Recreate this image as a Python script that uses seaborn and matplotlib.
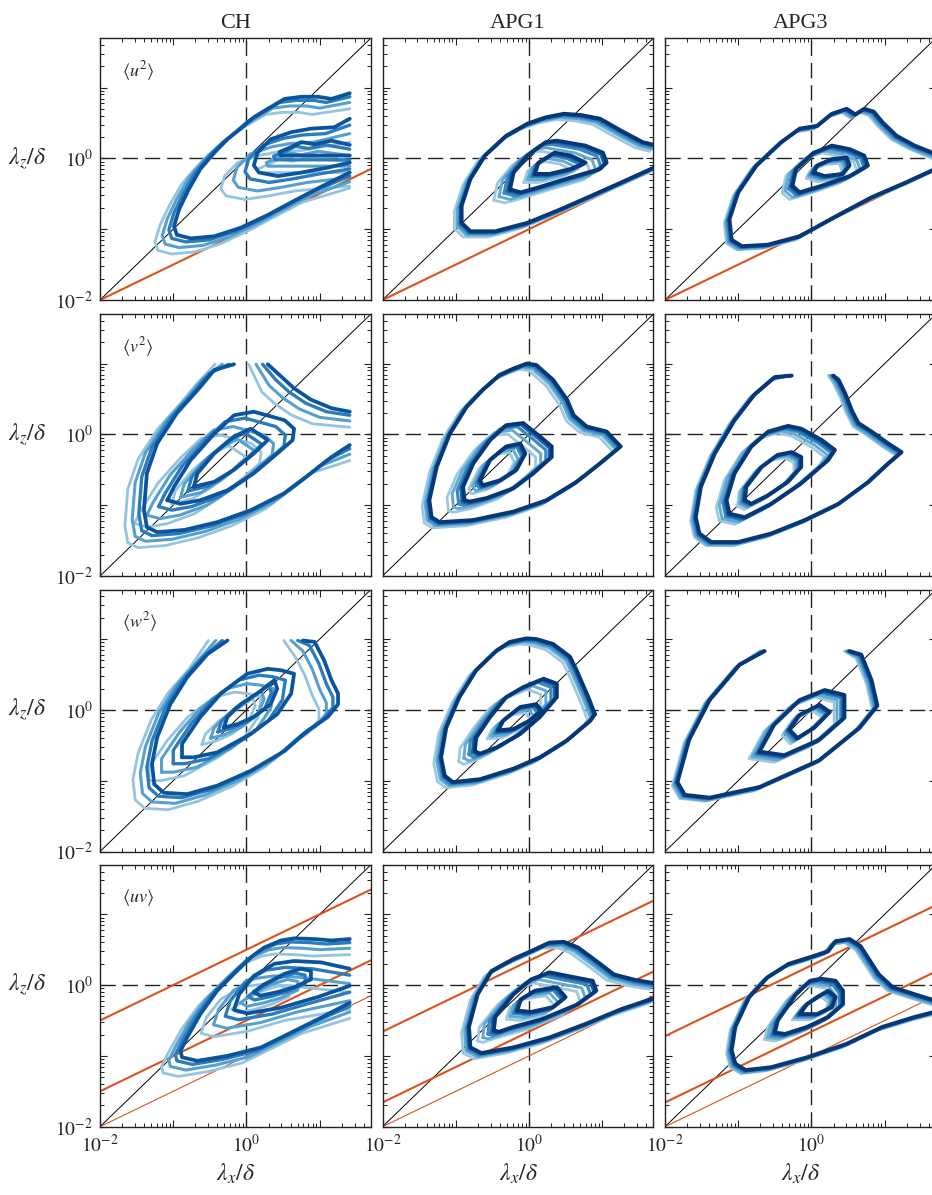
import numpy as np
import matplotlib
matplotlib.use("Agg")
import matplotlib.pyplot as plt
import seaborn as sns
from matplotlib.ticker import LogLocator, NullFormatter, FixedLocator

# ---------------------------------------------------------------------------
# Premultiplied 2-D spectra: contour lines in (log10 lambda_x/delta, log10 lambda_z/delta)
# Each curve is the darkest (highest-Re) case; lighter cases are stored as
# per-level displacements of that curve.
# ---------------------------------------------------------------------------
CASES = ["CH", "APG1", "APG3"]
COMPONENTS = [r"$\langle u^2\rangle$", r"$\langle v^2\rangle$",
              r"$\langle w^2\rangle$", r"$\langle uv\rangle$"]

# ----- CH --------------------------------------------------------------------
CH_U2_OUTER = [(1.41, 0.92), (1.16, 0.84), (0.98, 0.87), (0.75, 0.87), (0.52, 0.84),
               (0.29, 0.70), (0.10, 0.58), (-0.08, 0.42), (-0.26, 0.27), (-0.44, 0.08),
               (-0.63, -0.15), (-0.79, -0.44), (-0.92, -0.72), (-0.99, -0.96),
               (-0.95, -1.08), (-0.76, -1.13), (-0.44, -1.10), (-0.08, -0.98),
               (0.29, -0.80), (0.65, -0.60), (1.02, -0.40), (1.41, -0.20)]
CH_U2_MID = [(1.41, 0.56), (1.20, 0.44), (0.88, 0.42), (0.61, 0.37), (0.33, 0.27),
             (0.15, 0.08), (0.10, -0.10), (0.17, -0.20), (0.43, -0.25), (0.75, -0.20),
             (1.11, -0.13), (1.41, -0.06)]
CH_U2_IN = [(1.41, 0.19), (1.16, 0.25), (0.93, 0.20), (0.75, 0.23), (0.61, 0.16),
            (0.45, 0.09), (0.47, 0.04), (0.75, 0.04), (1.41, 0.04)]

CH_V2_OUTER_A = [(-0.17, 0.99), (-0.44, 0.91), (-0.63, 0.67), (-0.95, 0.30), (-1.22, -0.13),
                 (-1.36, -0.55), (-1.40, -1.07), (-1.36, -1.31), (-1.22, -1.38),
                 (-0.85, -1.35), (-0.40, -1.24), (0.06, -1.07), (0.52, -0.83),
                 (0.88, -0.55), (1.16, -0.32), (1.41, -0.15)]
CH_V2_OUTER_B = [(0.29, 0.99), (0.47, 0.82), (0.65, 0.65), (0.88, 0.49), (1.16, 0.37),
                 (1.41, 0.32)]
CH_V2_MID = [(-1.08, -0.93), (-0.99, -0.74), (-0.76, -0.36), (-0.44, 0.01), (-0.17, 0.27),
             (0.10, 0.32), (0.52, 0.20), (0.65, 0.08), (0.63, -0.08), (0.42, -0.27),
             (0.10, -0.55), (-0.26, -0.79), (-0.63, -0.93), (-0.90, -0.98)]
CH_V2_IN = [(-0.72, -0.74), (-0.67, -0.55), (-0.44, -0.27), (-0.17, -0.03), (0.06, 0.08),
            (0.29, -0.08), (0.10, -0.27), (-0.17, -0.50), (-0.44, -0.67)]

CH_W2_OUTER = [(-0.26, 0.98), (-0.53, 0.79), (-0.81, 0.46), (-1.04, 0.08), (-1.22, -0.39),
               (-1.29, -0.76), (-1.26, -1.05), (-1.13, -1.17), (-0.81, -1.19),
               (-0.40, -1.07), (0.06, -0.86), (0.52, -0.58), (0.84, -0.29), (1.11, -0.10),
               (1.25, 0.08), (1.25, 0.23), (1.16, 0.42), (1.06, 0.70), (0.93, 0.96),
               (0.77, 0.98)]
CH_W2_MID = [(-0.88, -0.67), (-0.88, -0.48), (-0.63, -0.10), (-0.35, 0.23), (0.01, 0.51),
             (0.29, 0.58), (0.47, 0.56), (0.65, 0.51), (0.61, 0.23), (0.42, -0.06),
             (0.06, -0.34), (-0.40, -0.60), (-0.72, -0.67)]
CH_W2_IN = [(-0.31, -0.25), (-0.26, -0.10), (-0.08, 0.08), (0.20, 0.27), (0.38, 0.42),
            (0.42, 0.30), (0.33, 0.08), (0.10, -0.10), (-0.12, -0.20)]

CH_UV_OUTER = [(1.41, 0.65), (1.16, 0.63), (0.93, 0.65), (0.65, 0.66), (0.47, 0.63),
               (0.24, 0.53), (0.06, 0.39), (-0.17, 0.16), (-0.40, -0.08), (-0.63, -0.41),
               (-0.81, -0.74), (-0.90, -0.93), (-0.88, -1.02), (-0.67, -1.07),
               (-0.26, -1.00), (0.20, -0.88), (0.65, -0.65), (1.02, -0.46), (1.41, -0.25)]
CH_UV_MID = [(1.41, 0.23), (1.02, 0.32), (0.65, 0.34), (0.38, 0.30), (0.10, 0.13),
             (-0.10, -0.13), (-0.17, -0.35), (0.01, -0.40), (0.47, -0.32), (0.97, -0.17),
             (1.41, -0.01)]
CH_UV_IN = [(0.10, -0.10), (0.24, 0.01), (0.52, 0.16), (0.74, 0.23), (0.88, 0.20),
            (0.88, 0.08), (0.65, -0.03), (0.42, -0.10), (0.19, -0.15)]

# ----- APG1 ------------------------------------------------------------------
APG1_U2_OUTER = [(1.75, 0.18), (1.55, 0.23), (1.26, 0.39), (0.97, 0.56), (0.72, 0.61),
                 (0.48, 0.63), (0.23, 0.58), (-0.02, 0.49), (-0.31, 0.32), (-0.60, 0.04),
                 (-0.80, -0.29), (-0.92, -0.67), (-0.92, -0.91), (-0.80, -1.03),
                 (-0.46, -1.03), (-0.02, -0.91), (0.43, -0.72), (0.87, -0.52),
                 (1.26, -0.34), (1.75, -0.11)]
APG1_U2_MID = [(-0.26, -0.44), (-0.21, -0.20), (-0.02, 0.04), (0.23, 0.23), (0.38, 0.25),
               (0.77, 0.18), (1.01, 0.08), (1.06, -0.06), (0.97, -0.15), (0.57, -0.27),
               (0.13, -0.41), (-0.11, -0.48)]
APG1_U2_IN = [(0.08, -0.22), (0.13, -0.06), (0.35, 0.08), (0.57, 0.04), (0.77, -0.06),
              (0.57, -0.15), (0.28, -0.22)]

APG1_V2_OUTER = [(1.25, -0.17), (1.06, 0.04), (0.79, 0.11), (0.61, 0.27), (0.52, 0.49),
                 (0.33, 0.77), (0.10, 0.98), (-0.03, 1.00), (-0.21, 0.93), (-0.40, 0.84),
                 (-0.63, 0.63), (-0.85, 0.39), (-1.08, 0.01), (-1.26, -0.46),
                 (-1.36, -0.93), (-1.33, -1.17), (-1.22, -1.24), (-0.76, -1.21),
                 (-0.21, -1.09), (0.24, -0.93), (0.65, -0.67), (0.97, -0.41)]
APG1_V2_MID = [(-0.88, -0.93), (-0.90, -0.74), (-0.76, -0.41), (-0.53, -0.08), (-0.31, 0.13),
               (-0.08, 0.16), (0.15, -0.03), (0.31, -0.17), (0.31, -0.32), (0.06, -0.55),
               (-0.21, -0.76), (-0.58, -0.90), (-0.81, -0.95)]
APG1_V2_IN = [(-0.67, -0.65), (-0.53, -0.36), (-0.31, -0.17), (-0.12, -0.13), (-0.05, -0.27),
              (-0.17, -0.50), (-0.40, -0.65), (-0.63, -0.72)]

APG1_W2_OUTER = [(0.90, -0.06), (0.81, 0.18), (0.65, 0.56), (0.56, 0.75), (0.33, 0.93),
                 (0.10, 1.00), (-0.03, 1.01), (-0.26, 0.96), (-0.44, 0.84), (-0.72, 0.56),
                 (-0.95, 0.18), (-1.13, -0.25), (-1.20, -0.67), (-1.15, -0.93),
                 (-1.04, -1.02), (-0.67, -0.98), (-0.21, -0.83), (0.15, -0.67),
                 (0.52, -0.43), (0.84, -0.15)]
APG1_W2_MID = [(-0.74, -0.58), (-0.72, -0.39), (-0.53, -0.10), (-0.31, 0.18), (-0.08, 0.32),
               (0.20, 0.44), (0.38, 0.37), (0.38, 0.18), (0.15, -0.10), (-0.12, -0.34),
               (-0.44, -0.53), (-0.67, -0.62)]
APG1_W2_IN = [(-0.42, -0.29), (-0.35, -0.15), (-0.12, 0.04), (0.10, 0.08), (0.17, -0.01),
              (0.01, -0.15), (-0.21, -0.27)]

APG1_UV_OUTER = [(1.75, 0.02), (1.46, 0.07), (1.16, 0.15), (0.92, 0.34), (0.67, 0.53),
                 (0.48, 0.61), (0.28, 0.60), (0.03, 0.48), (-0.21, 0.37), (-0.51, 0.20),
                 (-0.70, -0.13), (-0.82, -0.59), (-0.80, -0.88), (-0.65, -0.96),
                 (-0.21, -0.88), (0.28, -0.74), (0.77, -0.55), (1.26, -0.34), (1.75, -0.17)]
APG1_UV_MID = [(-0.48, -0.64), (-0.46, -0.45), (-0.21, -0.13), (0.03, 0.08), (0.28, 0.18),
               (0.52, 0.13), (0.87, 0.06), (0.92, -0.08), (0.67, -0.27), (0.18, -0.48),
               (-0.21, -0.59), (-0.41, -0.66)]
APG1_UV_IN = [(-0.16, -0.36), (-0.11, -0.20), (0.08, -0.08), (0.38, -0.03), (0.50, -0.17),
              (0.33, -0.31), (0.03, -0.38)]

# ----- APG3 ------------------------------------------------------------------
APG3_U2_OUTER = [(1.75, 0.04), (1.41, 0.18), (1.16, 0.32), (0.97, 0.51), (0.85, 0.66),
                 (0.72, 0.70), (0.60, 0.62), (0.48, 0.70), (0.28, 0.63), (0.08, 0.46),
                 (-0.16, 0.42), (-0.41, 0.23), (-0.75, -0.10), (-1.00, -0.48),
                 (-1.12, -0.86), (-1.09, -1.15), (-0.95, -1.24), (-0.60, -1.22),
                 (-0.16, -1.10), (0.33, -0.82), (0.82, -0.55), (1.31, -0.33), (1.75, -0.12)]
APG3_U2_MID = [(-0.26, -0.39), (-0.21, -0.15), (0.03, 0.08), (0.28, 0.18), (0.52, 0.13),
               (0.72, 0.04), (0.77, -0.10), (0.52, -0.25), (0.13, -0.39), (-0.16, -0.48)]
APG3_U2_IN = [(0.03, -0.20), (0.08, -0.10), (0.28, -0.01), (0.48, 0.01), (0.52, -0.10),
              (0.43, -0.22), (0.18, -0.25)]

APG3_V2_OUTER = [(-0.27, 0.83), (-0.50, 0.81), (-0.78, 0.56), (-1.05, 0.20), (-1.32, -0.27),
                 (-1.51, -0.74), (-1.58, -1.17), (-1.53, -1.40), (-1.37, -1.52),
                 (-1.00, -1.52), (-0.55, -1.40), (-0.09, -1.21), (0.37, -0.98),
                 (0.78, -0.67), (1.05, -0.41), (1.23, -0.25), (1.05, -0.13), (0.82, 0.04),
                 (0.64, 0.16), (0.55, 0.34), (0.46, 0.58), (0.37, 0.77), (0.30, 0.83)]
APG3_V2_MID = [(-1.12, -1.12), (-1.16, -0.93), (-1.05, -0.55), (-0.82, -0.17), (-0.59, 0.04),
               (-0.32, 0.12), (-0.14, 0.08), (0.14, -0.08), (0.32, -0.22), (0.23, -0.36),
               (-0.14, -0.69), (-0.55, -0.98), (-0.91, -1.17)]
APG3_V2_IN = [(-0.91, -0.93), (-0.89, -0.74), (-0.68, -0.46), (-0.46, -0.29), (-0.27, -0.25),
              (-0.14, -0.32), (-0.14, -0.46), (-0.32, -0.67), (-0.59, -0.86), (-0.82, -0.98)]

APG3_W2_OUTER = [(-0.64, 0.83), (-0.98, 0.64), (-1.39, 0.14), (-1.67, -0.42), (-1.83, -1.02),
                 (-1.73, -1.20), (-1.39, -1.24), (-0.71, -1.09), (0.11, -0.71),
                 (0.66, -0.25), (0.90, 0.06), (0.82, 0.42), (0.68, 0.78), (0.52, 0.83)]
APG3_W2_MID = [(-0.71, -0.59), (-0.51, -0.21), (-0.16, 0.14), (0.18, 0.28), (0.45, 0.21),
               (0.45, -0.11), (0.11, -0.42), (-0.37, -0.64)]
APG3_W2_IN = [(-0.30, -0.28), (-0.16, -0.07), (0.11, 0.07), (0.25, -0.03), (0.04, -0.25),
              (-0.19, -0.40)]

APG3_UV_OUTER = [(1.75, -0.24), (1.41, -0.13), (1.11, -0.03), (0.92, 0.15), (0.77, 0.39),
                 (0.67, 0.55), (0.52, 0.65), (0.33, 0.62), (0.23, 0.48), (0.03, 0.41),
                 (-0.31, 0.30), (-0.60, 0.11), (-0.85, -0.17), (-1.04, -0.59),
                 (-1.09, -0.92), (-1.04, -1.11), (-0.90, -1.20), (-0.55, -1.16),
                 (-0.06, -1.02), (0.48, -0.83), (0.97, -0.59), (1.41, -0.45), (1.75, -0.36)]
APG3_UV_MID = [(-0.50, -0.67), (-0.46, -0.50), (-0.21, -0.13), (-0.02, 0.06), (0.13, 0.09),
               (0.33, 0.06), (0.43, -0.08), (0.43, -0.27), (0.23, -0.45), (-0.06, -0.59),
               (-0.36, -0.69)]
APG3_UV_IN = [(-0.16, -0.41), (-0.06, -0.27), (0.08, -0.17), (0.23, -0.08), (0.33, -0.17),
              (0.28, -0.31), (0.08, -0.41)]

# (level, closed, curve) for every panel, rows = components, cols = cases
PANELS = [
    [[(0, False, CH_U2_OUTER), (1, False, CH_U2_MID), (2, False, CH_U2_IN)],
     [(0, False, APG1_U2_OUTER), (1, True, APG1_U2_MID), (2, True, APG1_U2_IN)],
     [(0, False, APG3_U2_OUTER), (1, True, APG3_U2_MID), (2, True, APG3_U2_IN)]],
    [[(0, False, CH_V2_OUTER_A), (0, False, CH_V2_OUTER_B), (1, True, CH_V2_MID), (2, True, CH_V2_IN)],
     [(0, True, APG1_V2_OUTER), (1, True, APG1_V2_MID), (2, True, APG1_V2_IN)],
     [(0, False, APG3_V2_OUTER), (1, True, APG3_V2_MID), (2, True, APG3_V2_IN)]],
    [[(0, False, CH_W2_OUTER), (1, True, CH_W2_MID), (2, True, CH_W2_IN)],
     [(0, True, APG1_W2_OUTER), (1, True, APG1_W2_MID), (2, True, APG1_W2_IN)],
     [(0, False, APG3_W2_OUTER), (1, True, APG3_W2_MID), (2, True, APG3_W2_IN)]],
    [[(0, False, CH_UV_OUTER), (1, False, CH_UV_MID), (2, True, CH_UV_IN)],
     [(0, False, APG1_UV_OUTER), (1, True, APG1_UV_MID), (2, True, APG1_UV_IN)],
     [(0, False, APG3_UV_OUTER), (1, True, APG3_UV_MID), (2, True, APG3_UV_IN)]],
]

# displacement (dlog lambda_x, dlog lambda_z) of each case, light -> dark, per level
CH_OFFSETS = [
    [(-0.26, -0.22), (-0.16, -0.13), (-0.07, -0.05), (0.0, 0.0)],
    [(-0.45, -0.33), (-0.28, -0.21), (-0.12, -0.09), (0.0, 0.0)],
    [(-0.30, -0.24), (-0.18, -0.15), (-0.08, -0.06), (0.0, 0.0)],
]
APG1_OFFSETS = [
    [(-0.10, -0.08), (-0.06, -0.05), (-0.03, -0.03), (-0.01, -0.01), (0.0, 0.0)],
    [(-0.22, -0.15), (-0.15, -0.10), (-0.08, -0.05), (-0.03, -0.02), (0.0, 0.0)],
    [(-0.15, -0.12), (-0.10, -0.08), (-0.05, -0.04), (-0.02, -0.02), (0.0, 0.0)],
]
APG3_OFFSETS = [
    [(-0.07, -0.05), (-0.05, -0.04), (-0.03, -0.02), (-0.01, -0.01), (0.0, 0.0)],
    [(-0.14, -0.10), (-0.10, -0.07), (-0.05, -0.04), (-0.02, -0.02), (0.0, 0.0)],
    [(-0.10, -0.08), (-0.07, -0.05), (-0.04, -0.03), (-0.02, -0.01), (0.0, 0.0)],
]
OFFSETS = [CH_OFFSETS, APG1_OFFSETS, APG3_OFFSETS]
# edge of the computational box (log10) on which open contours end
DOMAIN_EDGE = [(1.41, 0.99), (3.0, 3.0), (3.0, 0.83)]

SHADES = [[0.40, 0.56, 0.71, 0.86], [0.38, 0.52, 0.66, 0.80, 0.97], [0.38, 0.52, 0.66, 0.80, 0.97]]
WIDTHS = [[2.0, 2.2, 2.4, 2.7], [2.0, 2.1, 2.3, 2.5, 2.8], [2.0, 2.1, 2.3, 2.5, 2.8]]

# power-law reference lines lambda_z = C * lambda_x^(1/2)
REF_SLOPE = 0.5
REF_C_TOP = 0.1
REF_C_UV = [[3.16, 0.316, 0.1], [2.2, 0.22, 0.1], [1.9, 0.22, 0.1]]
REF_LW_UV = [1.5, 1.5, 0.8]
RED = "#D95319"

XLIM = (1e-2, 10 ** 1.7)
TICK_VALUES = [1e-2, 1e-1, 1e0, 1e1]
TICK_LABELS = [r"$10^{-2}$", "", r"$10^{0}$", ""]

# ---------------------------------------------------------------------------
sns.set_theme(style="ticks")
plt.rcParams.update({
    "font.family": ["Liberation Serif", "DejaVu Serif"],
    "mathtext.fontset": "stix",
    "axes.edgecolor": "#222222",
    "axes.linewidth": 1.0,
    "xtick.direction": "in", "ytick.direction": "in",
    "xtick.top": True, "ytick.right": True,
    "xtick.major.size": 5, "ytick.major.size": 5,
    "xtick.minor.size": 2.8, "ytick.minor.size": 2.8,
    "xtick.major.width": 0.8, "ytick.major.width": 0.8,
    "xtick.minor.width": 0.7, "ytick.minor.width": 0.7,
    "xtick.color": "#222222", "ytick.color": "#222222",
    "xtick.labelsize": 14, "ytick.labelsize": 14,
})
cmap = sns.color_palette("Blues", as_cmap=True)

W, H = 932, 1195
fig = plt.figure(figsize=(W / 100, H / 100), dpi=100)
col_left = [100, 382.5, 665]
row_top = [38, 314, 589.5, 864.7]
pw, ph = 271, 262


def displaced(curve, d, closed, edge):
    base = np.asarray(curve, float)
    p = base + np.asarray(d, float)
    if not closed:
        for i in (0, -1):
            if base[i, 0] >= edge[0] - 0.02:
                p[i, 0] = base[i, 0]
            if base[i, 1] >= edge[1] - 0.02:
                p[i, 1] = base[i, 1]
    else:
        p = np.vstack([p, p[:1]])
    return p


for r in range(4):
    for c in range(3):
        ax = fig.add_axes([col_left[c] / W, 1 - (row_top[r] + ph) / H, pw / W, ph / H])
        ax.set_xscale("log")
        ax.set_yscale("log")
        ax.set_xlim(*XLIM)
        ax.set_ylim(*XLIM)

        # guide lines
        ax.plot(XLIM, XLIM, color="black", lw=0.7, zorder=1)
        ax.axvline(1.0, color="#222222", lw=1.0, ls=(0, (11, 5)), zorder=1)
        ax.axhline(1.0, color="#222222", lw=1.0, ls=(0, (11, 5)), zorder=1)
        if r == 0:
            ax.axline((1e-2, REF_C_TOP * 1e-2 ** REF_SLOPE), (1.0, REF_C_TOP),
                      color=RED, lw=1.5, zorder=1)
        if r == 3:
            for coef, lw in zip(REF_C_UV[c], REF_LW_UV):
                ax.axline((1e-2, coef * 1e-2 ** REF_SLOPE), (1.0, coef),
                          color=RED, lw=lw, zorder=1)

        # contours, light cases first
        n_case = len(SHADES[c])
        for k in range(n_case):
            col = cmap(SHADES[c][k])
            for level, closed, curve in PANELS[r][c]:
                p = displaced(curve, OFFSETS[c][level][k], closed, DOMAIN_EDGE[c])
                sns.lineplot(x=10 ** p[:, 0], y=10 ** p[:, 1], sort=False, estimator=None,
                             color=col, linewidth=WIDTHS[c][k], ax=ax, zorder=2 + k,
                             solid_joinstyle="round", solid_capstyle="round")

        # ticks
        for axis in (ax.xaxis, ax.yaxis):
            axis.set_major_locator(FixedLocator(TICK_VALUES))
            axis.set_minor_locator(LogLocator(base=10, subs=np.arange(2, 10)))
            axis.set_minor_formatter(NullFormatter())
        ax.set_xticks(TICK_VALUES)
        ax.set_yticks(TICK_VALUES)
        if c == 0:
            ax.set_yticklabels(TICK_LABELS)
            ax.set_ylabel(r"$\lambda_z/\delta$", rotation=0, fontsize=17, va="center", ha="center")
            ax.yaxis.set_label_coords(-0.27, 0.54)
            ax.text(0.08, 0.875, COMPONENTS[r], transform=ax.transAxes, fontsize=13,
                    va="center", ha="left")
        else:
            ax.set_yticklabels([])
        if r == 3:
            ax.set_xticklabels(TICK_LABELS)
            ax.set_xlabel(r"$\lambda_x/\delta$", fontsize=17, labelpad=4)
        else:
            ax.set_xticklabels([])
        ax.tick_params(which="both", pad=5)
        if r == 0:
            ax.set_title(CASES[c], fontsize=16, pad=7)

fig.savefig("out.png", dpi=100)
